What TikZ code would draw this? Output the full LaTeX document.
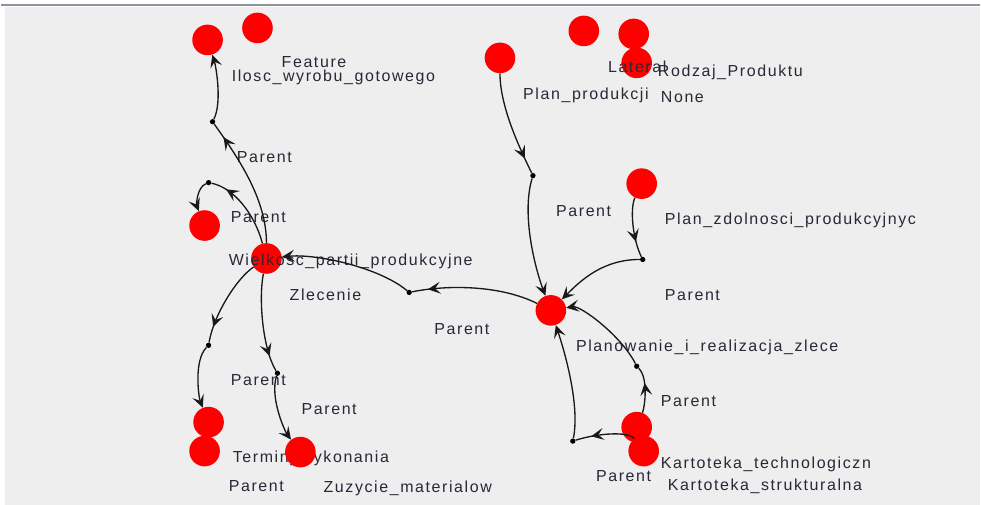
\documentclass[tikz,border=0pt]{standalone}
\usepackage{fontspec}
\setmainfont[LetterSpace=10]{Liberation Sans}
\usetikzlibrary{arrows.meta,decorations.markings}
\definecolor{panel}{RGB}{238,238,238}
\definecolor{rim}{RGB}{140,148,160}
\definecolor{lbl}{RGB}{40,40,55}
\begin{document}
\begin{tikzpicture}[x=0.75pt, y=-0.75pt,
    every node/.style={font=\fontsize{12}{14}\selectfont, text=lbl, inner sep=0pt},
    vert/.style={circle, fill=red, minimum size=23pt},
    knot/.style={circle, fill=black, minimum size=4pt},
    tag/.style={anchor=base west},
    half/.style={draw=black!90, line width=1pt},
    tip/.style={-{Stealth[length=9.5pt, width=9pt, inset=4pt]}},
    midtip/.style={postaction={decorate, decoration={markings,
        mark=at position -12pt with {\arrow{Stealth[length=9.5pt, width=9pt, inset=4pt]}}}}},
  ]
    \fill[white] (0,0) rectangle (981,506);
    \fill[panel] (4,7) rectangle (981,506);
    \draw[rim, line width=1.5pt] (0,5) -- (981,5);
    \useasboundingbox (0,0) rectangle (981,506);

    \node[tag] (ltermin) at (232,463) {Termin\_wykonania};

    \node[vert] (ilosc) at (207,40)  {};
    \node[vert] (feat)  at (257,28)  {};
    \node[vert] (plan)  at (500,58)  {};
    \node[vert] (later) at (584,31)  {};
    \node[vert] (rodz)  at (634,34)  {};
    \node[vert] (none)  at (637,63)  {};
    \node[vert] (zdol)  at (642,184) {};
    \node[vert] (plzl)  at (551,311) {};
    \node[vert] (wiel)  at (266,259) {};
    \node[vert] (zlec)  at (204,226) {};
    \node[vert] (term)  at (208,423) {};
    \node[vert] (tpar)  at (204,452) {};
    \node[vert] (zuzy)  at (300,453) {};
    \node[vert] (ktech) at (637,428) {};
    \node[vert] (kstr)  at (644,452) {};

    \node[knot] (k1) at (212,122) {};
    \node[knot] (k2) at (208,183) {};
    \node[knot] (k3) at (533,176) {};
    \node[knot] (k4) at (643,260) {};
    \node[knot] (k5) at (409,293) {};
    \node[knot] (k6) at (208,346) {};
    \node[knot] (k7) at (277,374) {};
    \node[knot] (k8) at (637,367) {};
    \node[knot] (k9) at (573,442) {};

    \node[tag] (lfeat)  at (281,68)  {Feature};
    \node[tag] (lilosc) at (231,82)  {Ilosc\_wyrobu\_gotowego};
    \node[tag] (llater) at (608,73)  {Lateral};
    \node[tag] (lrodz)  at (658,77)  {Rodzaj\_Produktu};
    \node[tag] (lplan)  at (523,100) {Plan\_produkcji};
    \node[tag] (lnone)  at (661,103) {None};
    \node[tag] (lzdol)  at (665,225) {Plan\_zdolnosci\_produkcyjnyc};
    \node[tag] (lplzl)  at (576,352) {Planowanie\_i\_realizacja\_zlece};
    \node[tag] (lwiel)  at (228,266) {Wielkosc\_partii\_produkcyjne};
    \node[tag] (lzlec)  at (289,301) {Zlecenie};
    \node[tag] (lzuzy)  at (323,494) {Zuzycie\_materialow};
    \node[tag] (lktech) at (661,469) {Kartoteka\_technologiczn};
    \node[tag] (lkstr)  at (668,492) {Kartoteka\_strukturalna};

    \node[tag] (p1)  at (236,163) {Parent};
    \node[tag] (p2)  at (230,223) {Parent};
    \node[tag] (p3)  at (556,217) {Parent};
    \node[tag] (p4)  at (665,301) {Parent};
    \node[tag] (p5)  at (434,335) {Parent};
    \node[tag] (p6)  at (230,386) {Parent};
    \node[tag] (p7)  at (301,415) {Parent};
    \node[tag] (p8)  at (661,407) {Parent};
    \node[tag] (p9)  at (596,482) {Parent};
    \node[tag] (p10) at (228,493) {Parent};

    \draw[half, midtip] (wiel) .. controls +(0,-60) and +(25,35) .. (k1);
    \draw[half, tip]    (k1) .. controls +(10,-20) and +(8,25) .. (ilosc);
    \draw[half, midtip] (wiel) .. controls +(-12,-45) and +(25,5) .. (k2);
    \draw[half, tip]    (k2) .. controls +(-12,5) and +(-8,-20) .. (zlec);
    \draw[half, midtip] (plan) .. controls +(0,50) and +(-12,-25) .. (k3);
    \draw[half, tip]    (k3) .. controls +(-12,40) and +(-15,-40) .. (plzl);
    \draw[half, midtip] (zdol) .. controls +(-12,25) and +(-10,-20) .. (k4);
    \draw[half, tip]    (k4) .. controls +(-40,0) and +(30,-30) .. (plzl);
    \draw[half, midtip] (plzl) .. controls +(-50,-25) and +(40,-8) .. (k5);
    \draw[half, tip]    (k5) .. controls +(-30,-25) and +(50,-5) .. (wiel);
    \draw[half, midtip] (wiel) .. controls +(-30,20) and +(5,-30) .. (k6);
    \draw[half, tip]    (k6) .. controls +(-15,15) and +(-10,-25) .. (term);
    \draw[half, midtip] (wiel) .. controls +(-8,40) and +(-15,-25) .. (k7);
    \draw[half, tip]    (k7) .. controls +(-8,25) and +(-15,-20) .. (zuzy);
    \draw[half, midtip] (ktech) .. controls +(8,-20) and +(12,12) .. (k8);
    \draw[half, tip]    (k8) .. controls +(-15,-30) and +(30,-5) .. (plzl);
    \draw[half, midtip] (kstr) .. controls +(-15,-20) and +(25,-8) .. (k9);
    \draw[half, tip]    (k9) .. controls +(8,-40) and +(10,30) .. (plzl);
  \end{tikzpicture}
\end{document}
